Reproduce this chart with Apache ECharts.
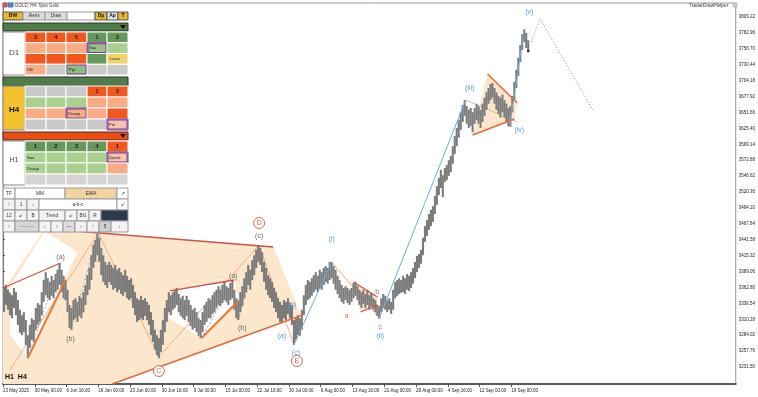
<!DOCTYPE html>
<html><head><meta charset="utf-8">
<script src="https://cdn.jsdelivr.net/npm/echarts@6/dist/echarts.min.js"></script>
<style>html,body{margin:0;padding:0;background:#fff}#c{width:758px;height:397px}</style>
</head><body><div id="c"></div>
<script>
// ---------------- DATA ----------------
// x unit = one 8-hour slot (two H4 bars); bar k sits at k+0.5
const xTickValues = [0,16,32,48,64,80,96,112,128,144,160,176,192,208,224,240,256];
const xTickLabels = ["23 May 2025","30 May 00:00","6 Jun 16:00","16 Jun 00:00","23 Jun 00:00","30 Jun 16:00","9 Jul 00:00","15 Jul 00:00","22 Jul 16:00","30 Jul 00:00","6 Aug 00:00","13 Aug 16:00","21 Aug 00:00","28 Aug 00:00","4 Sep 16:00","12 Sep 00:00","19 Sep 00:00"];
const yTickValues = [3231.50,3257.76,3284.02,3310.28,3336.54,3362.80,3389.06,3415.32,3441.58,3467.84,3494.10,3520.36,3546.62,3572.88,3599.14,3625.40,3651.66,3677.92,3704.18,3730.44,3756.70,3782.96,3809.22];

const highs = [
3364,3367,3359,3354,3350,3362,3355,3342,3326,3317,
3322,3309,3284,3301,3312,3309,3329,3337,3334,3355,
3375,3388,3378,3372,3382,3375,3385,3392,3402,3392,
3382,3375,3359,3334,3329,3342,3345,3339,3349,3345,
3355,3367,3383,3395,3416,3433,3441,3451,3445,3428,
3416,3405,3400,3405,3400,3395,3400,3392,3395,3388,
3383,3392,3382,3375,3378,3367,3355,3345,3342,3349,
3342,3345,3339,3334,3322,3309,3293,3284,3279,3293,
3309,3329,3342,3355,3350,3355,3359,3362,3352,3345,
3349,3342,3349,3342,3334,3326,3329,3322,3312,3309,
3322,3334,3339,3345,3342,3350,3355,3359,3365,3359,
3367,3372,3365,3362,3370,3375,3359,3345,3342,3355,
3365,3378,3388,3400,3392,3408,3416,3425,3431,3428,
3421,3405,3395,3383,3378,3372,3362,3355,3345,3339,
3334,3342,3339,3345,3337,3334,3309,3312,3317,3312,
3326,3350,3367,3375,3372,3378,3383,3388,3382,3392,
3388,3395,3398,3395,3405,3405,3398,3392,3382,3375,
3367,3362,3365,3362,3359,3362,3370,3372,3365,3359,
3355,3359,3352,3359,3350,3354,3345,3342,3334,3332,
3345,3352,3349,3342,3345,3339,3359,3372,3375,3378,
3375,3382,3378,3385,3382,3388,3395,3405,3415,3418,
3425,3445,3464,3474,3484,3491,3497,3514,3530,3544,
3557,3548,3560,3565,3573,3580,3596,3613,3626,3639,
3652,3664,3672,3662,3656,3659,3652,3659,3666,3662,
3656,3666,3676,3685,3692,3699,3700,3692,3685,3679,
3676,3681,3672,3666,3659,3662,3679,3702,3722,3742,
3763,3781,3789,3783,3771];
const lows = [
3322,3334,3326,3317,3312,3329,3317,3301,3288,3284,
3289,3268,3246,3263,3276,3273,3293,3301,3306,3317,
3339,3350,3345,3342,3349,3345,3355,3359,3367,3355,
3345,3342,3322,3296,3293,3309,3312,3306,3316,3312,
3322,3334,3350,3359,3375,3395,3405,3416,3405,3383,
3372,3367,3362,3372,3367,3359,3362,3355,3359,3352,
3349,3355,3345,3342,3345,3329,3317,3306,3309,3312,
3309,3316,3309,3301,3284,3273,3260,3251,3246,3256,
3268,3289,3306,3322,3317,3326,3329,3334,3322,3316,
3312,3309,3316,3306,3299,3293,3296,3289,3283,3279,
3289,3301,3306,3312,3312,3319,3322,3329,3334,3332,
3337,3342,3339,3334,3342,3345,3326,3312,3309,3322,
3332,3345,3355,3367,3359,3375,3383,3395,3405,3400,
3388,3372,3359,3350,3345,3339,3329,3322,3312,3306,
3306,3312,3309,3319,3312,3301,3268,3276,3284,3283,
3293,3317,3334,3342,3345,3349,3355,3359,3355,3362,
3359,3367,3372,3369,3375,3378,3369,3359,3352,3345,
3339,3336,3342,3337,3334,3339,3345,3349,3342,3334,
3329,3336,3329,3334,3326,3332,3326,3322,3316,3311,
3322,3329,3326,3322,3326,3319,3326,3345,3349,3352,
3354,3355,3352,3359,3357,3362,3369,3378,3388,3395,
3402,3416,3438,3448,3458,3464,3471,3484,3499,3515,
3527,3512,3537,3540,3547,3553,3567,3583,3596,3610,
3623,3636,3646,3633,3626,3629,3619,3633,3639,3633,
3626,3636,3646,3656,3666,3672,3676,3666,3656,3649,
3643,3652,3643,3636,3629,3628,3652,3672,3692,3712,
3735,3755,3768,3758,3751];

// annotation geometry in (slot, price)
const peachZones = [
  [[21,3459.3],[136,3431.3],[150,3317.4],[55,3203.5],[0,3203.5],[0,3358.6]],
  [[236.5,3614.5],[244,3716.8],[259,3668.9],[257.5,3639.2]],
  [[176.5,3371.8],[188.5,3347.1],[188.5,3333.9],[180,3322.3]]
];
const clearZones = [
  [[3.5,3363.6],[21,3456.0],[37.5,3421.3],[12.5,3246.4],[3.5,3284.3]],
  [[83.5,3357.0],[116.5,3375.1],[119,3343.8],[100,3279.4],[83.5,3312.4]]
];
const redLines = [
  [[0,3361.9],[29,3403.2]],
  [[24,3459.3],[136,3429.6]],
  [[84,3357.0],[116.5,3375.1]],
  [[176.5,3371.8],[188.5,3347.1]],
  [[180,3322.3],[188.5,3333.9]]
];
const orangeRedLines = [
  [[55,3203.5],[151,3317.4]],
  [[244,3715.2],[259,3667.3]],
  [[236.5,3614.5],[257.5,3640.9]]
];
const orangeThick = [
  [[12.5,3246.4],[31.5,3375.1]],
  [[100,3279.4],[118.5,3340.5]]
];
const orangeThin = [
  [[3.5,3226.6],[48,3452.7]],
  [[48,3452.7],[78.5,3248.0]],
  [[78.5,3248.0],[129,3432.9]],
  [[129,3432.9],[146.5,3267.8]],
  [[165.5,3404.8],[189.5,3312.4]],
  [[233,3672.2],[259,3635.9]]
];
const blueLines = [
  [[146.5,3267.8],[165.5,3404.8]],
  [[189.5,3312.4],[233,3672.2]],
  [[255,3627.7],[262.5,3789.4]]
];
const dottedLines = [
  [[12.5,3246.4],[29,3403.2]],
  [[34,3292.6],[48,3452.7]],
  [[100,3279.4],[116,3375.1]],
  [[118.5,3309.1],[129,3432.9]]
];
const projection = [[266,3768.0],[270.5,3805.9],[297,3655.7]];

const grayLabels = [[29,3413.1,"(a)"],[34,3277.7,"(b)"],[116,3381.7,"(a)"],[120.5,3295.9,"(b)"],[129,3447.8,"(c)"]];
const blueLabels = [[140.5,3282.7,"(a)"],[145.5,3333.9,"(b)"],[147.5,3254.6,"(c)"],[165.5,3442.8,"(i)"],[190,3282.7,"(ii)"],[235,3692.0,"(iii)"],[260,3622.7,"(iv)"],[265,3817.5,"(v)"]];
const salmonLabels = [[173,3315.7,"a"],[190,3297.6,"c"],[188.5,3354.5,"b"]];
const circleLabels = [[129,3469.2,"D"],[78.5,3224.9,"C"],[148,3241.4,"E"]];
const lastPrice = [[264.5,3753]];

// ---------------- CHART ----------------
const chart = echarts.init(document.getElementById('c'));
const FONT = 'Liberation Sans, Arial, sans-serif';

function segSeries(group, color, width, type, z) {
  return group.map(seg => ({
    type: 'line', data: seg, symbol: 'none', silent: true, animation: false, z: z,
    lineStyle: { color: color, width: width, type: type }, clip: true
  }));
}
function polySeries(group, fill, z) {
  return {
    type: 'custom', silent: true, animation: false, z: z, clip: true,
    data: group.map(p => p[0]),
    renderItem: (params, api) => ({
      type: 'polygon',
      shape: { points: group[params.dataIndex].map(p => api.coord(p)) },
      style: { fill: fill, stroke: null }
    })
  };
}
function labelSeries(group, color, size, z) {
  return {
    type: 'custom', silent: true, animation: false, z: z, clip: false,
    data: group.map(l => [l[0], l[1]]),
    renderItem: (params, api) => {
      const l = group[params.dataIndex];
      const c = api.coord([l[0], l[1]]);
      return { type: 'text', x: c[0], y: c[1],
        style: { text: l[2], fill: color, font: size + 'px ' + FONT, align: 'center', verticalAlign: 'middle' } };
    }
  };
}

// ---------- panel (UI overlay) ----------
const G = [];
function rect(x, y, w, h, fill, stroke) {
  G.push({ type: 'rect', shape: { x: x, y: y, width: w, height: h },
    style: { fill: fill, stroke: stroke || '#ffffff', lineWidth: 1 }, z: 100 });
}
function text(x, y, s, size, color, bold, align) {
  G.push({ type: 'text', x: x, y: y, z: 101,
    style: { text: s, fill: color || '#222', font: (bold ? 'bold ' : '') + size + 'px ' + FONT,
      align: align || 'center', verticalAlign: 'middle' } });
}
function tri(x, y) {
  G.push({ type: 'polygon', z: 101, shape: { points: [[x - 3, y - 2], [x + 3, y - 2], [x, y + 2]] }, style: { fill: '#111' } });
}
const OR = '#f2571e', SA = '#f9ab86', DG = '#65985a', LG = '#a9d08f', GR = '#c9c9c9', PU = '#7b3c9c', PK = '#f9c2ae', YE = '#f3d36c';

// title
rect(3, 3, 4, 4, '#d9534f', '#d9534f');
rect(8, 3, 5, 4, '#4a7fd0', '#4a7fd0');
text(15, 5.5, 'GOLD, H4: Spot Gold', 4.5, '#333', false, 'left');
// button row
rect(3, 12, 20, 8, '#e8b832', '#555'); text(13, 16, 'BW', 5, '#111', true);
rect(23, 12, 22, 8, '#dddddd', '#999'); text(34, 16, 'Alerts', 4.5, '#333');
rect(45, 12, 22, 8, '#dddddd', '#999'); text(56, 16, 'Draw', 4.5, '#333');
rect(67, 12, 28, 8, '#ffffff', '#999');
rect(95, 12, 12, 8, '#e8b832', '#555'); text(101, 16, 'Dp', 5, '#111', true);
rect(107, 12, 11, 8, '#e4e4e4', '#555'); text(112.5, 16, 'Ap', 5, '#111', true);
rect(118, 12, 10, 8, '#e8b832', '#555'); text(123, 16, 'T', 5, '#111', true);
// section bars
rect(3, 23, 125, 8, '#4f7d49', '#333'); tri(123, 27);
rect(3, 77, 125, 9, '#4f7d49', '#333');
rect(3, 132, 125, 8, '#f04c12', '#333'); tri(123, 136);

const colX = [25, 46, 66, 87, 107], colW = [21, 20, 21, 20, 21];
function block(y0, rowH, rows) {
  rows.forEach((row, r) => {
    row.forEach((c, i) => {
      const x = colX[i], y = y0 + r * rowH;
      rect(x, y, colW[i], rowH, c[0], c[2] ? PU : '#ffffff');
      if (c[2]) rect(x + 1, y + 1, colW[i] - 2, rowH - 2, c[0], PU);
      if (c[1]) {
        const big = c[1].length === 1;
        text(big ? x + colW[i] / 2 : x + 2, y + rowH / 2, c[1], big ? 6 : 4.2, '#222', big, big ? 'center' : 'left');
      }
    });
  });
}
// D1
rect(3, 32, 22, 43, '#ffffff', '#888'); text(14, 53, 'D1', 8, '#444');
block(32, 10.75, [
  [[OR, '3'], [OR, '4'], [OR, '5'], [DG, '1'], [DG, '2']],
  [[SA], [SA], [SA], ['#9cbf8a', 'Sau', 1], [LG]],
  [[OR], [OR], [OR], [DG], [YE, 'Cross']],
  [[SA, 'DB'], [GR], [GR], [GR], [GR]]
]);
rect(67, 65, 19, 9, '#8fbd7f', PU); text(69, 69.5, 'Ppr', 4.2, '#222', false, 'left');
// H4
rect(3, 86, 22, 44, '#f2c12e', '#888'); text(14, 110, 'H4', 8, '#111', true);
block(86, 11, [
  [[GR], [GR], [GR], [OR, '1'], [OR, '2']],
  [[LG], [LG], [LG], [SA], [SA]],
  [[SA], [SA], [SA, 'Disagr', 1], [SA], [OR]],
  [[GR], [GR], [GR], [GR], [PK, 'Pin', 1]]
]);
// H1
rect(3, 141, 22, 44, '#ffffff', '#888'); text(14, 160, 'H1', 7, '#444');
block(141, 11, [
  [[DG, '1'], [DG, '2'], [DG, '3'], [DG, '4'], [OR, '1']],
  [[LG, 'Sau'], [LG], [LG], [LG], [PK, 'Zpeak', 1]],
  [[LG, 'Disagr'], [LG], [LG], [LG], [SA]],
  [['#d4d4d4'], ['#d4d4d4'], ['#d4d4d4'], ['#d4d4d4'], ['#d4d4d4']]
]);
// toolbar
const BB = '#f3f3f3', BS = '#9a9a9a';
function btn(x, y, w, s, fill) { rect(x, y, w, 11, fill || BB, BS); if (s) text(x + w / 2, y + 5.5, s, 4.8, '#333'); }
btn(3, 188, 12, 'TF', '#fff'); btn(15, 188, 50, 'MM', '#fff'); btn(65, 188, 52, 'EWA', '#f2d3a2'); btn(117, 188, 11, '↗', '#fff');
btn(3, 199, 12, '↑'); btn(15, 199, 12, '1'); btn(27, 199, 12, '↓'); btn(39, 199, 78, 'a-b-c', '#fff'); btn(117, 199, 11, '↙', '#fff');
btn(3, 210, 12, '12'); btn(15, 210, 12, '↙'); btn(27, 210, 12, 'B'); btn(39, 210, 26, 'Trend'); btn(65, 210, 12, '↙'); btn(77, 210, 12, 'BG'); btn(89, 210, 12, 'R'); btn(101, 210, 27, '', '#2c3a4f');
btn(3, 221, 12, '↑'); btn(15, 221, 24, '- - - - -', '#d6d6d6'); btn(39, 221, 12, '↓'); btn(51, 221, 12, '↑'); btn(63, 221, 12, '—', '#dedede'); btn(75, 221, 12, '↓'); btn(87, 221, 12, '↑'); btn(99, 221, 12, '5', '#cfcfcf'); btn(111, 221, 17, '↓');
// other texts
text(5, 377, 'H1  H4', 7, '#111', true, 'left');
text(689, 6, 'TraderDrawHelper', 4.8, '#333', false, 'left');
rect(733, 3, 4, 4, '#cccccc', '#bbbbbb');

const series = [];
series.push(polySeries(peachZones, '#fde7cc', 1));
series.push(polySeries(clearZones, '#ffffff', 2));
series.push(...segSeries(orangeThin, '#f2b07a', 1, 'solid', 3));
series.push(...segSeries(dottedLines, '#9aa9bb', 1, [2, 2], 3));
series.push({
  type: 'custom', silent: true, animation: false, z: 4, clip: true,
  data: highs.map((h, i) => [i + 0.5, h, lows[i]]),
  encode: { x: 0, y: [1, 2] },
  renderItem: (params, api) => {
    const a = api.coord([api.value(0), api.value(1)]);
    const b = api.coord([api.value(0), api.value(2)]);
    return { type: 'line', shape: { x1: a[0], y1: a[1], x2: b[0], y2: b[1] }, style: { stroke: '#7b7b7b', lineWidth: 2.1 } };
  }
});
series.push(...segSeries(redLines, '#cd5248', 1.3, 'solid', 5));
series.push(...segSeries(orangeRedLines, '#de6a3a', 1.5, 'solid', 5));
series.push(...segSeries(orangeThick, '#e27c36', 2, 'solid', 5));
series.push(...segSeries(blueLines, '#72aad8', 1, 'solid', 5));
series.push({ type: 'line', data: projection, symbol: 'none', silent: true, animation: false, z: 5, lineStyle: { color: '#8a8a8a', width: 1, type: [1, 2] } });
series.push({ type: 'scatter', data: lastPrice, symbol: 'rect', symbolSize: 2, itemStyle: { color: '#000' }, z: 6, silent: true, animation: false });
series.push(labelSeries(grayLabels, '#6a6a6a', 7, 7));
series.push(labelSeries(blueLabels, '#5d9bd0', 7, 7));
series.push(labelSeries(salmonLabels, '#e0625a', 7, 7));
series.push({
  type: 'custom', silent: true, animation: false, z: 7, clip: false,
  data: circleLabels.map(l => [l[0], l[1]]),
  renderItem: (params, api) => {
    const l = circleLabels[params.dataIndex];
    const c = api.coord([l[0], l[1]]);
    return { type: 'group', children: [
      { type: 'circle', shape: { cx: c[0], cy: c[1], r: 5.5 }, style: { fill: '#ffffff', stroke: '#e0625a', lineWidth: 1 } },
      { type: 'text', x: c[0], y: c[1] + 0.5, style: { text: l[2], fill: '#e0625a', font: '7px ' + FONT, align: 'center', verticalAlign: 'middle' } }
    ] };
  }
});

chart.setOption({
  animation: false,
  backgroundColor: '#ffffff',
  grid: { left: 0, right: 20, top: 3, bottom: 13, show: true, borderColor: '#9a9a9a', borderWidth: 1 },
  xAxis: {
    type: 'value', min: 0, max: 369,
    axisLine: { show: true, lineStyle: { color: '#5a5a5a', width: 2 } },
    axisTick: { show: true, customValues: xTickValues, length: 3, lineStyle: { color: '#555' } },
    axisLabel: { customValues: xTickValues, formatter: v => xTickLabels[xTickValues.indexOf(v)] || '',
      align: 'left', fontSize: 4.5, color: '#222', margin: 4, fontFamily: FONT },
    splitLine: { show: false }
  },
  yAxis: {
    type: 'value', position: 'right', min: 3203.44, max: 3832.33, scale: true,
    axisLine: { show: true, lineStyle: { color: '#7a7a7a', width: 1 } },
    axisTick: { show: true, customValues: yTickValues, length: 2, lineStyle: { color: '#555' } },
    axisLabel: { customValues: yTickValues, formatter: v => v.toFixed(2), fontSize: 4.5, color: '#222', margin: 3, fontFamily: FONT },
    splitLine: { show: false }
  },
  graphic: { elements: G },
  series: series
});
</script></body></html>
